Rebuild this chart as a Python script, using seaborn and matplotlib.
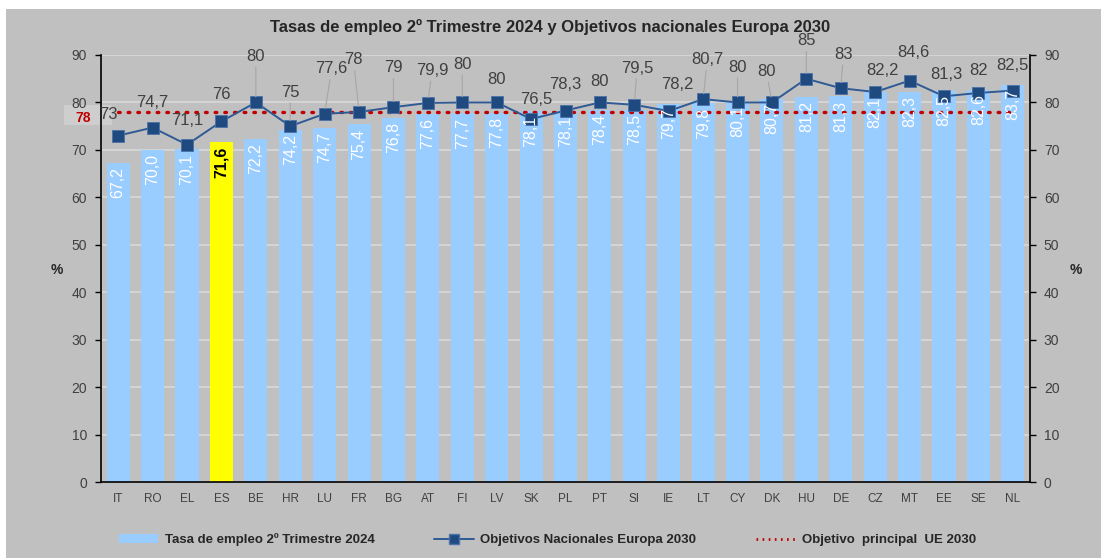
import numpy as np
import pandas as pd
import seaborn as sns
import matplotlib.pyplot as plt
from matplotlib.patches import Patch, Rectangle
from matplotlib.lines import Line2D

countries = ["IT", "RO", "EL", "ES", "BE", "HR", "LU", "FR", "BG", "AT", "FI", "LV", "SK", "PL",
             "PT", "SI", "IE", "LT", "CY", "DK", "HU", "DE", "CZ", "MT", "EE", "SE", "NL"]
empleo_2024 = [67.2, 70.0, 70.1, 71.6, 72.2, 74.2, 74.7, 75.4, 76.8, 77.6, 77.7, 77.8, 78.1, 78.1,
               78.4, 78.5, 79.7, 79.8, 80.1, 80.7, 81.2, 81.3, 82.1, 82.3, 82.5, 82.6, 83.7]
objetivos_2030 = [73, 74.7, 71.1, 76, 80, 75, 77.6, 78, 79, 79.9, 80, 80, 76.5, 78.3,
                  80, 79.5, 78.2, 80.7, 80, 80, 85, 83, 82.2, 84.6, 81.3, 82, 82.5]
objetivo_ue = 78
highlight = "ES"

# label offsets in points (dx, dy) for the target line labels
label_offsets = [(-7, 10), (0, 13), (0, 12), (0, 14), (0, 28), (0, 19), (5, 27), (-4, 32),
                 (0, 23), (3, 18), (0, 22), (0, 11), (4, 9), (0, 13), (0, 10), (2, 21),
                 (6, 14), (3, 23), (0, 20), (-4, 17), (0, 22), (2, 19), (5, 10), (3, 15),
                 (2, 10), (0, 11), (0, 13)]

GREY = "#C0C0C0"
BAR = "#99CCFF"
LINE = "#2F5A94"
MARK = "#1F4A80"
RED = "#C00000"
TXT = "#404040"


def fmt(v):
    if float(v).is_integer():
        return str(int(v))
    return f"{v:.1f}".replace(".", ",")


sns.set_theme(style="white")
plt.rcParams["font.family"] = ["Liberation Sans", "DejaVu Sans"]

fig = plt.figure(figsize=(11.01, 5.58), dpi=100, facecolor="white")
bg = fig.add_axes([6 / 1101, 0, 1 - 6 / 1101, 1 - 9 / 558])
bg.set_facecolor(GREY)
bg.set_xticks([])
bg.set_yticks([])
for s in bg.spines.values():
    s.set_visible(False)
bg.set_zorder(-10)

# light box behind the "78" label of the EU target
fig.patches.append(Rectangle((64 / 1101, 1 - 125 / 558), 48 / 1101, 20 / 558,
                             transform=fig.transFigure, fc="#CECECE", ec="none", zorder=-5))

ax = fig.add_axes([101 / 1101, 1 - 482 / 558, (1030 - 101) / 1101, (482 - 55) / 558])
ax.set_facecolor("none")
ax.set_axisbelow(True)
ax.yaxis.grid(True, color="#D9D9D9", lw=1.2)

df = pd.DataFrame({"pais": countries, "empleo": empleo_2024, "objetivo": objetivos_2030})
df["pos"] = np.arange(len(df))
palette = {c: ("#FFFF00" if c == highlight else BAR) for c in countries}

sns.barplot(data=df, x="pais", y="empleo", hue="pais", palette=palette, width=0.67,
            legend=False, saturation=1, edgecolor="none", linewidth=0, zorder=2, ax=ax)

sns.lineplot(data=df, x="pos", y="objetivo", color=LINE, lw=1.4, marker="s", markersize=8,
             markerfacecolor=MARK, markeredgecolor="#4A72A8", markeredgewidth=0.6, ax=ax, zorder=4)
ue_line = np.full(len(df), objetivo_ue)
sns.lineplot(x=df["pos"], y=ue_line, color=RED, lw=2.4, linestyle=(0, (0.5, 2.4)),
             dash_capstyle="round", ax=ax, zorder=3)

ax.set_xlim(-0.5, len(df) - 0.5)
ax.set_ylim(0, 90)
ax.set_yticks(range(0, 91, 10))

ax.set_xlabel("")
ax.set_ylabel("")
ax.set_xticks(np.arange(len(df)))
ax.set_xticklabels(countries, fontsize=8.5, color=TXT, fontstretch="condensed")
ax.set_xticks(np.arange(len(df)) + 0.5, minor=True)
ax.tick_params(axis="x", which="major", length=0, pad=8)
ax.tick_params(axis="x", which="minor", length=4, width=1, color="black", direction="out")
ax.tick_params(axis="y", length=4, width=1, color="black", labelsize=10, labelcolor=TXT, pad=6, left=True)
for side in ["top", "right"]:
    ax.spines[side].set_visible(False)
ax.spines["left"].set_color("black")
ax.spines["bottom"].set_color("black")
ax.spines["left"].set_linewidth(1.2)
ax.spines["bottom"].set_linewidth(1.2)

ax2 = ax.twinx()
ax2.set_ylim(0, 90)
ax2.set_yticks(range(0, 91, 10))
ax2.tick_params(axis="y", length=4, width=1, color="black", labelsize=10, labelcolor=TXT, pad=6, right=True)
for side in ["top", "left", "bottom"]:
    ax2.spines[side].set_visible(False)
ax2.spines["right"].set_color("black")
ax2.spines["right"].set_linewidth(1.2)
ax2.grid(False)

# bar value labels
for i, v in enumerate(empleo_2024):
    col = "black" if countries[i] == highlight else "white"
    ax.annotate(f"{v:.1f}".replace(".", ","), (i, v),
                xytext=(0, -3), textcoords="offset points", rotation=90, ha="center", va="top",
                fontsize=11.5, color=col, fontweight="bold" if col == "black" else "normal", zorder=5)

# target line labels
for i, (v, off) in enumerate(zip(objetivos_2030, label_offsets)):
    arrow = dict(arrowstyle="-", color="#A6A6A6", lw=0.8, shrinkA=0, shrinkB=4) if off[1] > 16 else None
    ax.annotate(fmt(v), (i, v), xytext=off, textcoords="offset points", ha="center", va="bottom",
                fontsize=12, color=TXT, arrowprops=arrow, zorder=6)

ax.annotate(str(objetivo_ue), (0, objetivo_ue), xytext=(-25.5, -4.5), textcoords="offset points",
            ha="center", va="center", fontsize=10, color=RED, fontweight="bold", zorder=1)

fig.text(57 / 1101, 1 - 270 / 558, "%", fontsize=10, fontweight="bold", ha="center", va="center")
fig.text(1076 / 1101, 1 - 270 / 558, "%", fontsize=10, fontweight="bold", ha="center", va="center")
fig.text(0.5, 1 - 27 / 558, "Tasas de empleo 2º Trimestre 2024 y Objetivos nacionales Europa 2030",
         fontsize=12, fontweight="bold", ha="center", va="center")

handles = [
    Patch(facecolor=BAR, edgecolor="none"),
    Line2D([], [], color=LINE, lw=1.4, marker="s", markersize=7, markerfacecolor=MARK,
           markeredgecolor="#4A72A8"),
    Line2D([], [], color=RED, lw=2, linestyle=(0, (0.6, 1.6))),
]
labels = ["Tasa de empleo 2º Trimestre 2024", "Objetivos Nacionales Europa 2030",
          "Objetivo  principal  UE 2030"]
leg = fig.legend(handles, labels, loc="center", bbox_to_anchor=(0.497, 1 - 540 / 558), ncol=3,
                 frameon=False, prop={"weight": "bold", "size": 9.5, "stretch": "condensed"},
                 columnspacing=4.5, handlelength=3, handletextpad=0.5)

fig.savefig("out.png", dpi=100, facecolor="white")
